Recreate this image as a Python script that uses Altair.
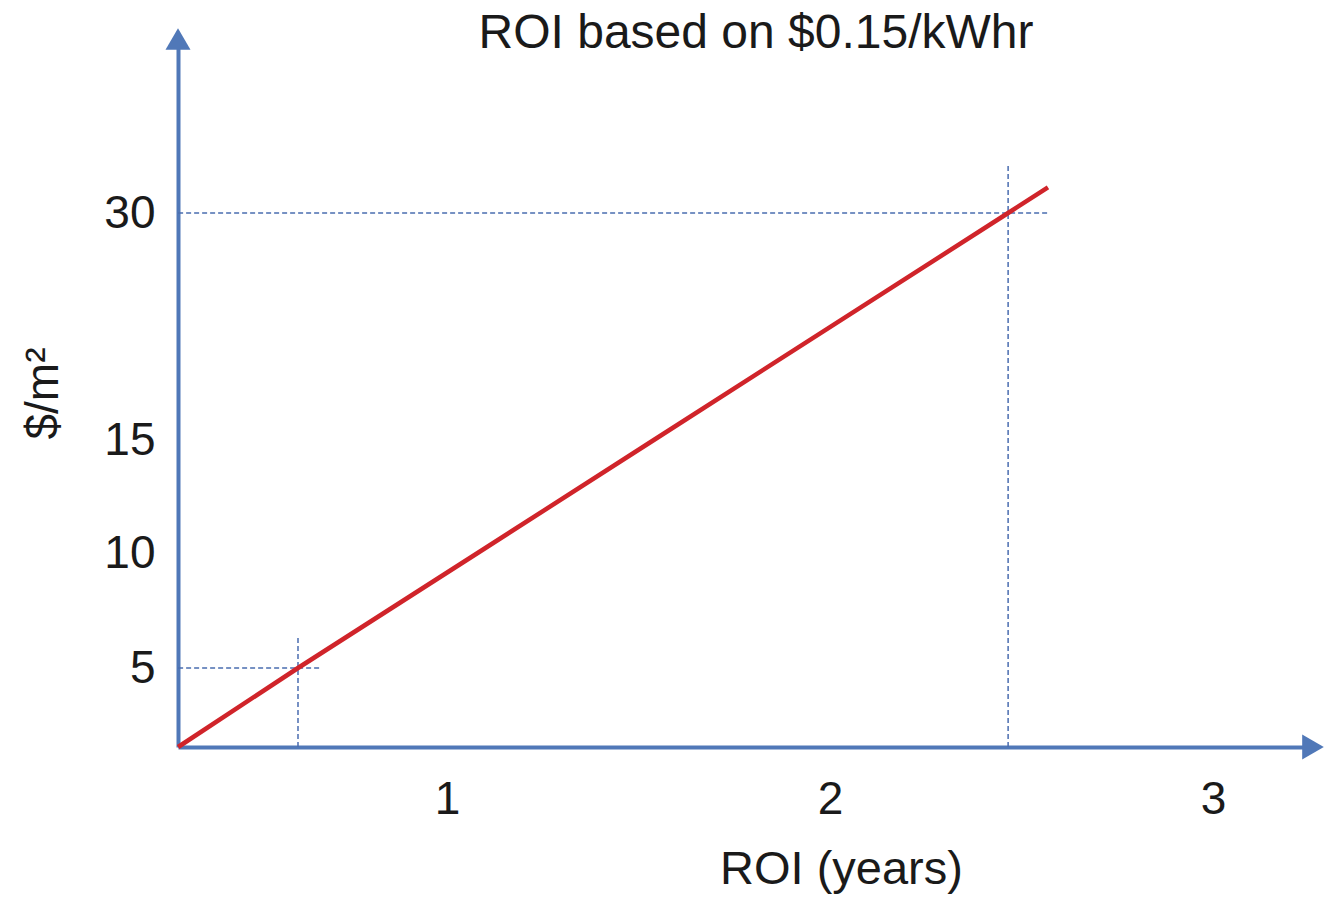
import altair as alt
import pandas as pd

# ---- data ----
roi_years = [0.298, 0.611, 1.08, 1.54, 2.465, 2.569]
cost_per_m2 = [0, 5, 10, 15, 30, 31.7]

x_ticks = [1, 2, 3]
y_ticks = [5, 10, 15, 30]

# dashed guide segments (reading lines)
guide_x1 = [0.298, 2.465, 0.298, 0.611]
guide_x2 = [2.574, 2.465, 0.674, 0.611]
guide_y1 = [30, 0, 5, 0]
guide_y2 = [30, 33.3, 5, 6.35]

chart_title = ["ROI based on $0.15/kWhr"]

# ---- scale settings (the drawing's axis is not uniform) ----
x_domain = [0.2977, 3.261]
y_domain = [0, 5, 10, 15, 30, 41.5]
y_range = [708, 629, 514, 401, 174, 0]

FONT = "Liberation Sans"
BLUE = "#5078b8"
DASH = "#4a6db0"
RED = "#d0242a"
INK = "#1a1a1a"

df_line = pd.DataFrame({"roi": roi_years, "cost": cost_per_m2})
df_guides = pd.DataFrame({"x1": guide_x1, "x2": guide_x2, "y1": guide_y1, "y2": guide_y2})
df_up = pd.DataFrame({"roi": [x_domain[0]], "cost": [y_domain[-1]]})
df_right = pd.DataFrame({"roi": [x_domain[1]], "cost": [y_domain[0]]})
df_title = pd.DataFrame({"t": chart_title})

xs = alt.Scale(domain=x_domain, nice=False, zero=False)
ys = alt.Scale(domain=y_domain, range=y_range, nice=False, zero=False)

x_axis = alt.Axis(
    values=x_ticks, format="d", title="ROI (years)", grid=False, ticks=False, tickSize=0,
    domainColor=BLUE, domainWidth=4, labelFont=FONT, labelFontSize=46, labelColor=INK,
    labelPadding=30, titleFont=FONT, titleFontSize=47, titleFontWeight="normal",
    titleColor=INK, titlePadding=24, titleX=663, titleAlign="center",
)
y_axis = alt.Axis(
    values=y_ticks, format="d", title="$/m²", grid=False, ticks=False, tickSize=0,
    domainColor=BLUE, domainWidth=4, labelFont=FONT, labelFontSize=46, labelColor=INK,
    labelPadding=23, titleFont=FONT, titleFontSize=46, titleFontWeight="normal",
    titleColor=INK, titlePadding=36,
)

guides = alt.Chart(df_guides).mark_rule(color=DASH, strokeWidth=1.5, strokeDash=[5, 3]).encode(
    x=alt.X("x1:Q", scale=xs, axis=x_axis),
    x2="x2:Q",
    y=alt.Y("y1:Q", scale=ys, axis=y_axis),
    y2="y2:Q",
)

line = alt.Chart(df_line).mark_line(color=RED, strokeWidth=4.5).encode(
    x=alt.X("roi:Q", scale=xs, axis=x_axis),
    y=alt.Y("cost:Q", scale=ys, axis=y_axis),
)

arrow_up = alt.Chart(df_up).mark_point(
    shape="triangle-up", filled=True, color=BLUE, size=625, opacity=1, strokeWidth=0
).encode(
    x=alt.X("roi:Q", scale=xs, axis=x_axis),
    y=alt.Y("cost:Q", scale=ys, axis=y_axis),
)

arrow_right = alt.Chart(df_right).mark_point(
    shape="triangle-right", filled=True, color=BLUE, size=625, opacity=1, strokeWidth=0
).encode(
    x=alt.X("roi:Q", scale=xs, axis=x_axis),
    y=alt.Y("cost:Q", scale=ys, axis=y_axis),
)

title_text = alt.Chart(df_title).mark_text(
    font=FONT, fontSize=48, color=INK, align="center", baseline="alphabetic"
).encode(
    text="t:N",
    x=alt.value(578),
    y=alt.value(9),
)

chart = (
    alt.layer(guides, line, arrow_up, arrow_right, title_text)
    .properties(
        width=1135,
        height=708,
        padding={"left": 178, "top": 39, "right": 12, "bottom": 156},
        autosize=alt.AutoSizeParams(type="none"),
        background="white",
    )
    .configure_view(stroke=None)
)

chart.save("out.html", embed_options={"renderer": "svg", "actions": False})
